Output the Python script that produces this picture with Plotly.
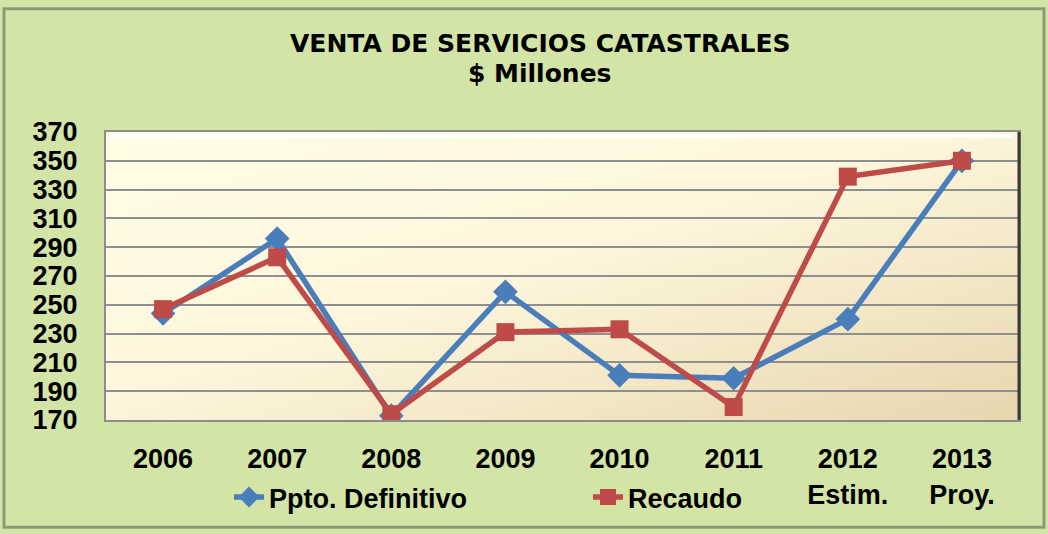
import plotly.graph_objects as go
import base64

categories = ["2006", "2007", "2008", "2009", "2010", "2011", "2012<br>Estim.", "2013<br>Proy."]
ppto_definitivo = [244, 296, 173, 259, 201, 199, 240, 350]
recaudo = [247, 283, 174, 231, 233, 179, 339, 350]
y_ticks = list(range(170, 371, 20))
title_lines = ["VENTA DE SERVICIOS CATASTRALES", "$ Millones"]

FONT = "Arial, Liberation Sans, sans-serif"
TITLE_FONT = "DejaVu Sans, Arial, sans-serif"
BLUE = "#4A7EBB"
RED = "#BE4B48"

# plot area pixel geometry (for decoration placement only)
L, R, T, B, W, H = 106, 29, 132, 112, 1048, 534
PW, PH = W - L - R, H - T - B

def px(xp):
    return (xp - L) / PW

def py(yp):
    return (H - B - yp) / PH

svg = """<svg xmlns='http://www.w3.org/2000/svg' width='400' height='200' preserveAspectRatio='none'>
<defs><linearGradient id='g' x1='0' y1='0' x2='1' y2='1'>
<stop offset='0' stop-color='#FFFCE6'/><stop offset='0.45' stop-color='#FEF7DD'/>
<stop offset='1' stop-color='#E7D6AE'/></linearGradient></defs>
<rect width='400' height='200' fill='url(#g)'/></svg>"""
svg_uri = "data:image/svg+xml;base64," + base64.b64encode(svg.encode()).decode()

fig = go.Figure()
fig.add_trace(go.Scatter(
    x=categories, y=ppto_definitivo, name="Ppto. Definitivo", mode="lines+markers",
    line=dict(color=BLUE, width=5.5),
    marker=dict(symbol="diamond", size=19, color=BLUE),
))
fig.add_trace(go.Scatter(
    x=categories, y=recaudo, name="Recaudo", mode="lines+markers",
    line=dict(color=RED, width=5.5),
    marker=dict(symbol="square", size=18, color=RED),
))

fig.update_layout(
    width=W, height=H,
    margin=dict(l=L, r=R, t=T, b=B),
    paper_bgcolor="#D2E4A6",
    plot_bgcolor="#FEF8DF",
    font=dict(family=FONT, size=27, color="black"),
    showlegend=True,
    legend=dict(
        orientation="h", x=px(229), xanchor="left", y=py(500), yanchor="middle",
        font=dict(family=FONT, size=27, color="black", weight="bold"),
        bgcolor="rgba(0,0,0,0)", entrywidth=314, entrywidthmode="pixels",
    ),
    xaxis=dict(
        type="category", range=[-0.5, 7.5], showgrid=False, automargin=False,
        showline=True, linecolor="#8C8C8C", linewidth=2, mirror=True,
        tickfont=dict(family=FONT, size=27, color="black", weight="bold"),
        ticks="", ticklabelstandoff=14,
    ),
    yaxis=dict(
        range=[170, 370], tickvals=y_ticks, showgrid=True, automargin=False,
        gridcolor="#8F8F8F", gridwidth=2,
        showline=True, linecolor="#8C8C8C", linewidth=2, mirror=True,
        tickfont=dict(family=FONT, size=27, color="black", weight="bold"),
        ticks="", ticklabelstandoff=21, zeroline=False,
    ),
    annotations=[
        dict(text="<b>%s</b>" % title_lines[0], xref="paper", yref="paper",
             x=px(540), y=py(43), xanchor="center", yanchor="middle",
             showarrow=False, font=dict(family=TITLE_FONT, size=25, color="black")),
        dict(text="<b>%s</b>" % title_lines[1], xref="paper", yref="paper",
             x=px(540), y=py(73), xanchor="center", yanchor="middle",
             showarrow=False, font=dict(family=TITLE_FONT, size=25, color="black")),
    ],
    images=[dict(
        source=svg_uri, xref="paper", yref="paper", x=0, y=1, sizex=1, sizey=1,
        sizing="stretch", layer="below", xanchor="left", yanchor="top",
    )],
    shapes=[
        dict(type="rect", xref="paper", yref="paper",
             x0=px(4), x1=px(1044), y0=py(530), y1=py(8),
             line=dict(color="#8A9A78", width=3), layer="below"),
        dict(type="line", xref="paper", yref="paper", x0=1, x1=1, y0=0, y1=1,
             line=dict(color="#3A3A3A", width=3), layer="above"),
        dict(type="line", xref="paper", yref="paper", x0=px(110), x1=px(1012),
             y0=py(136), y1=py(136), line=dict(color="#FFFFFF", width=4),
             layer="below"),
    ],
)

fig.write_html("out.html", config={"displayModeBar": False},
               post_script="document.body.style.margin='0';")
